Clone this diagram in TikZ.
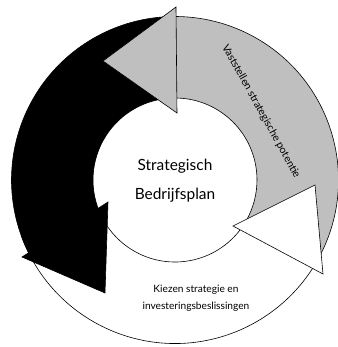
\documentclass[tikz,border=0pt]{standalone}
\usepackage{fontspec}
\setmainfont{Lato}
\definecolor{arrowgray}{RGB}{191,191,191}
\begin{document}
\begin{tikzpicture}[x=1bp,y=1bp,
  arrowline/.style={draw=black, line width=0.6bp, line join=miter},
  centertext/.style={align=center, font=\fontsize{15.5}{29}\selectfont},
  smalltext/.style={align=center, font=\fontsize{10.2}{17}\selectfont},
  arctext/.style={font=\fontsize{10.6}{12}\selectfont, rotate=-61}]
\useasboundingbox (-175,-167) rectangle (163,180);
\def\Ro{163.5bp}
\def\Ri{82bp}
% bodies
\path[arrowline, fill=white] (200:\Ro) arc[start angle=200, end angle=328, radius=\Ro]
  -- (328:\Ri) arc[start angle=328, end angle=200, radius=\Ri] -- cycle;
\path[fill=black, draw=black, line width=0.6bp] (92:\Ro) arc[start angle=92, end angle=207, radius=\Ro]
  -- (207:\Ri) arc[start angle=207, end angle=92, radius=\Ri] -- cycle;
\path[arrowline, fill=arrowgray] (-30:\Ro) arc[start angle=-30, end angle=91, radius=\Ro]
  -- (91:\Ri) arc[start angle=91, end angle=-30, radius=\Ri] -- cycle;
% heads
\path[arrowline, fill=arrowgray] (1,173) -- (-72,119) -- (2,67) -- cycle;
\path[fill=black, draw=black, line width=0.6bp] (-153,-77) -- (-70,-113) -- (-67,-22) -- cycle;
\path[arrowline, fill=white] (58,-46) -- (140,-5) -- (148,-94) -- cycle;
% texts
\node[centertext] (plan) at (0,-1) {Strategisch\\Bedrijfsplan};
\node[smalltext] (kiezen) at (21,-118.5) {Kiezen strategie en\\investeringsbeslissingen};
\node[arctext] (vast) at (86,68.5) {Vaststellen strategische potentie};
\end{tikzpicture}
\end{document}
